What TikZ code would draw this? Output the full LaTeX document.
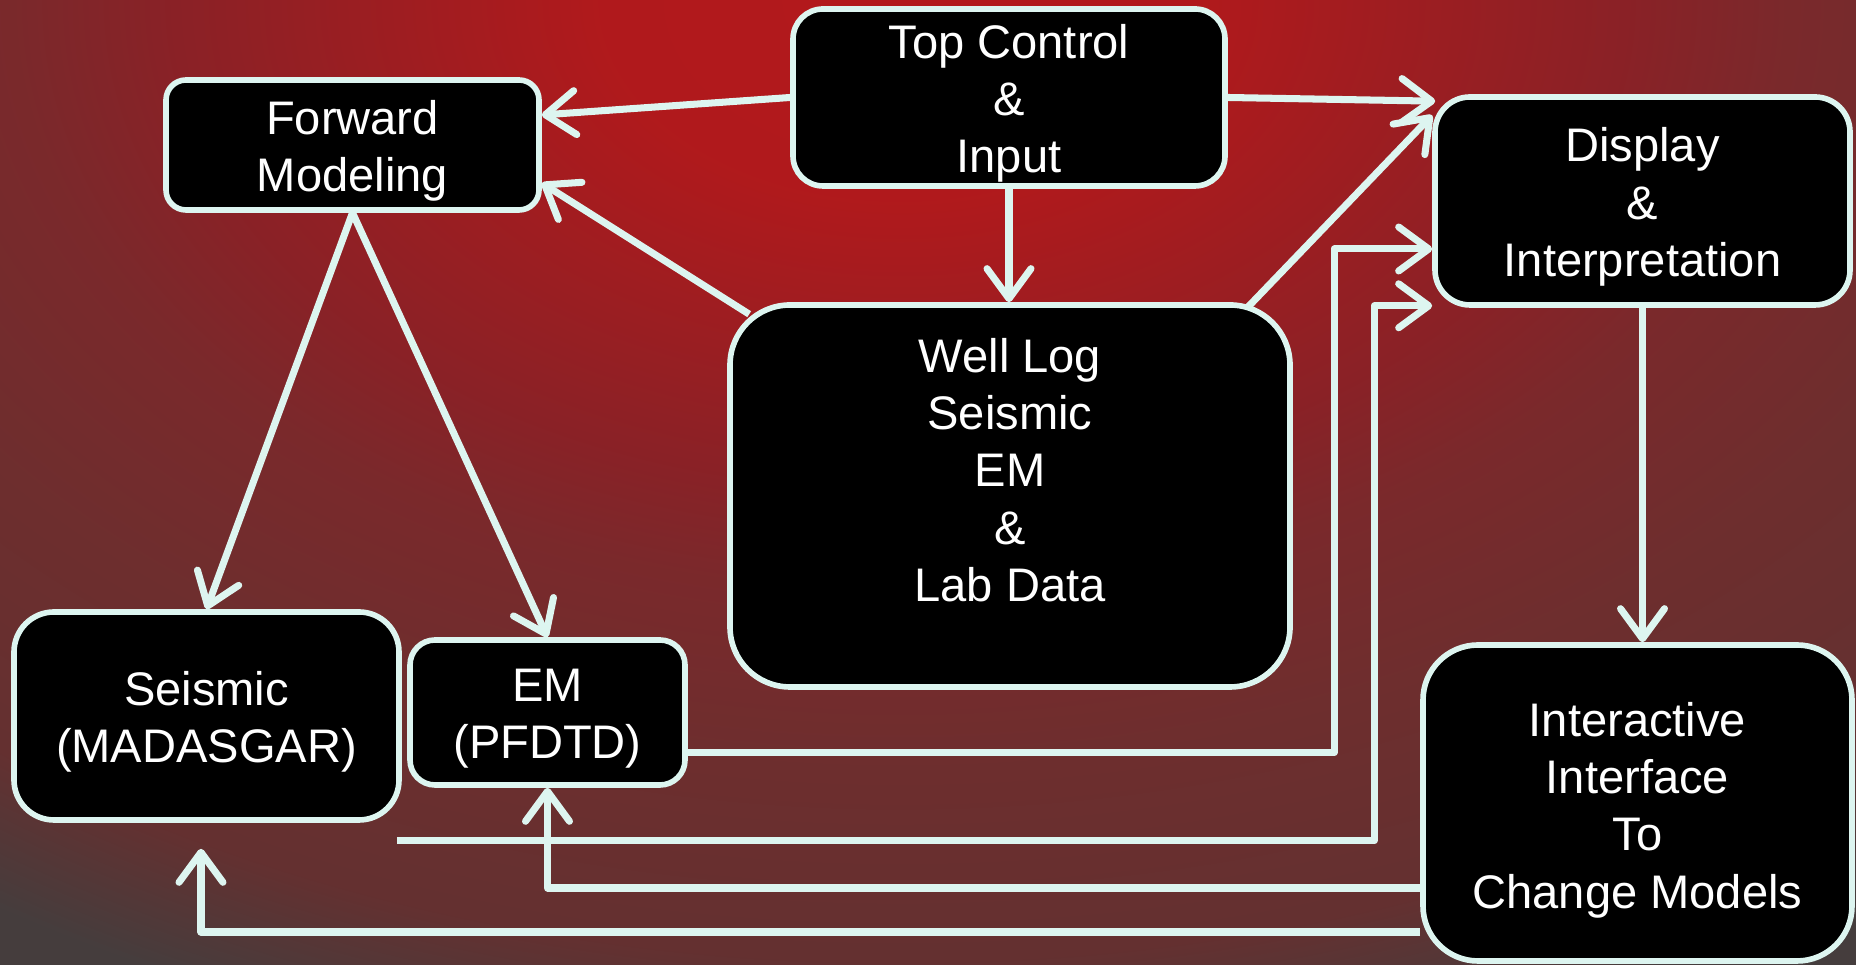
\documentclass[tikz,border=0pt]{standalone}
\usepackage{fontspec}
\setmainfont{Liberation Sans}
\usetikzlibrary{positioning, arrows.meta, calc}
\definecolor{linecol}{RGB}{221,245,240}
\pgfdeclareradialshading{redglow}{\pgfpoint{0bp}{0bp}}{%
  rgb(0bp)=(0.70,0.10,0.11); rgb(2.7bp)=(0.69,0.10,0.11); rgb(6.5bp)=(0.54,0.13,0.15);
  rgb(7.9bp)=(0.48,0.16,0.17); rgb(10.2bp)=(0.43,0.18,0.18); rgb(12.9bp)=(0.39,0.19,0.19);
  rgb(14.6bp)=(0.27,0.24,0.24); rgb(50bp)=(0.27,0.24,0.24)}
\tikzset{
->, % every connector is directed
>={Straight Barb[round, length=3mm, width=4.4mm]}, % open barbed heads
box/.style={draw=linecol, fill=black, line width=1.6pt, inner sep=0pt}, % black panels with a pale rim
txt/.style={text=white, align=center, font=\fontsize{13.4}{16.3}\selectfont}, % panel captions
link/.style={draw=linecol, line width=2pt, line join=round}, % pale connectors
}

\begin{document}
\begin{tikzpicture}
    \useasboundingbox (0,0) rectangle (18.56,9.65);
    \begin{scope}
        \clip (0,0) rectangle (18.56,9.65);
        \shade[shading=redglow] (9.0,9.65) ellipse [x radius=28, y radius=18.67];
    \end{scope}

    % panels
    \node[box, minimum width=4.32cm, minimum height=1.77cm, rounded corners=3mm] (top) at (10.09,8.675) {};
    \node[box, minimum width=3.73cm, minimum height=1.30cm, rounded corners=2mm] (fwd) at (3.525,8.20) {};
    \node[box, minimum width=4.15cm, minimum height=2.08cm, rounded corners=3.5mm] (disp) at (16.425,7.64) {};
    \node[box, minimum width=5.60cm, minimum height=3.82cm, rounded corners=6mm] (well) at (10.10,4.69) {};
    \node[box, minimum width=3.85cm, minimum height=2.08cm, rounded corners=4mm] (seis) at (2.065,2.49) {};
    \node[box, minimum width=2.75cm, minimum height=1.45cm, rounded corners=2.5mm] (em) at (5.475,2.525) {};
    \node[box, minimum width=4.29cm, minimum height=3.16cm, rounded corners=5.5mm] (inter) at (16.375,1.62) {};

    % captions
    \node[txt] (toptext) at ([yshift=-0.6mm]top.center) {Top Control\\\&\\Input};
    \node[txt] (fwdtext) at ([yshift=-0.6mm]fwd.center) {Forward\\Modeling};
    \node[txt] (disptext) at ([yshift=-0.6mm]disp.center) {Display\\\&\\Interpretation};
    \node[txt] (welltext) at ([yshift=2.6mm]well.center) {Well Log\\Seismic\\EM\\\&\\Lab Data};
    \node[txt] (seistext) at ([yshift=-0.6mm]seis.center) {Seismic\\(MADASGAR)};
    \node[txt] (emtext) at ([yshift=-0.6mm]em.center) {EM\\(PFDTD)};
    \node[txt] (intertext) at ([yshift=-0.7mm]inter.center) {Interactive\\Interface\\To\\Change Models};

    \coordinate (emout) at ([yshift=-4mm]em.east);
    \coordinate (seisout) at ([shift={(-0.05,-0.18)}]seis.south east);
    \coordinate (dispinA) at ([yshift=-4.8mm]disp.west);
    \coordinate (dispinB) at ([yshift=0.2mm]disp.south west);

    \draw[link] (top.west) -- ([yshift=3mm]fwd.east);
    \draw[link] (top.east) -- ([shift={(0.03,-0.07)}]disp.north west);
    \draw[link] (top.south) -- (top.south |- well.north);
    \draw[link] ([shift={(0.22,-0.12)}]well.north west) -- ([yshift=-3.8mm]fwd.east);
    \draw[link] ([shift={(-0.45,-0.05)}]well.north east) -- ([yshift=-2.1mm]disp.north west);
    \draw[link] (fwd.south) -- (seis.north);
    \draw[link] (fwd.south) -- (em.north);
    \draw[link] (emout) -| ($(dispinA)+(-0.98,0)$) -- (dispinA);
    \draw[link] (seisout) -| ($(dispinB)+(-0.58,0)$) -- (dispinB);
    \draw[link] (disp.south) -- (disp.south |- inter.north);
    \draw[link] ([yshift=-8.5mm]inter.west) -| (em.south);
    \draw[link] ([yshift=-12.9mm]inter.west) -| ([shift={(-0.055,-0.26)}]seis.south);
\end{tikzpicture}
\end{document}
